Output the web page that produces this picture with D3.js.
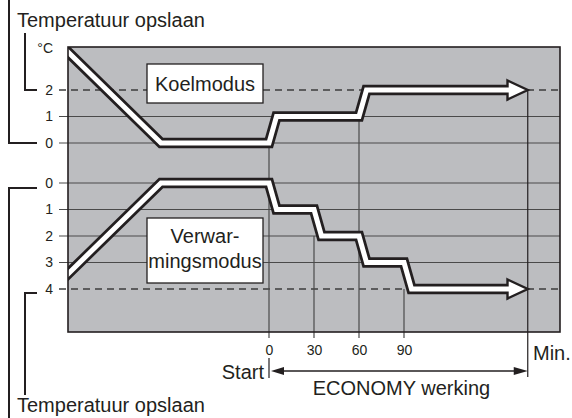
<!DOCTYPE html>
<html>
<head>
<meta charset="utf-8">
<script src="https://cdn.jsdelivr.net/npm/d3@7"></script>
<style>
  body { margin: 0; background: #fff; }
  svg text { font-family: "Liberation Sans", Arial, sans-serif; fill: #231f20; }
</style>
</head>
<body>
<svg id="chart" width="572" height="418"></svg>
<script>
// time in minutes, temperatures as offset in °C
var coolTime = [-134, -72, 0, 5, 60, 65, 159];
var coolTemp = [3.43, 0, 0, 1, 1, 2, 2];
var heatTime = [-134, -72, 0, 5, 30, 35, 60, 65, 90, 95, 159];
var heatTemp = [3.43, 0, 0, 1, 1, 2, 2, 3, 3, 4, 4];
var arrowTip = 172.5;          // end of ECONOMY werking ("Min.")
var coolTicks = [0, 1, 2];
var heatTicks = [0, 1, 2, 3, 4];
var coolSet = 2;               // dashed level, cooling
var heatSet = 4;               // dashed level, heating
var timeTicks = [0, 30, 60, 90];
// where each time line starts: on which curve and at which level
var lineFrom = ["cool", "heat", "cool", "heat"];
var lineLevel = [0, 2, 1, 4];

var ink = "#231f20";
var svg = d3.select("#chart");

var pLeft = 68, pRight = 560, pTop = 47, pBottom = 332;
var x = d3.scaleLinear().domain([-134, 194]).range([pLeft, pRight]);
var yCool = d3.scaleLinear().domain([0, 2]).range([143, 90]);
var yHeat = d3.scaleLinear().domain([0, 4]).range([183, 289]);

svg.append("defs").append("clipPath").attr("id", "plotclip")
  .append("rect").attr("x", pLeft).attr("y", pTop)
  .attr("width", pRight - pLeft).attr("height", pBottom - pTop);

// gray plot area
svg.append("rect")
  .attr("x", pLeft).attr("y", pTop)
  .attr("width", pRight - pLeft).attr("height", pBottom - pTop)
  .attr("fill", "#bcbdc0");

// horizontal grid lines, also serving as left ticks
function gridLines(ticks, y, dashed) {
  svg.append("g").selectAll("line").data(ticks).enter().append("line")
    .attr("x1", 59).attr("x2", pRight)
    .attr("y1", d => y(d)).attr("y2", d => y(d))
    .attr("stroke", d => d === dashed ? "#3c3c3c" : "#4a4a4a")
    .attr("stroke-width", d => d === dashed ? 1.4 : 1.2)
    .attr("stroke-dasharray", d => d === dashed ? "7,5" : null);
}
gridLines(coolTicks, yCool, coolSet);
gridLines(heatTicks, yHeat, heatSet);

// vertical time lines
svg.append("g").selectAll("line").data(timeTicks).enter().append("line")
  .attr("x1", d => x(d)).attr("x2", d => x(d))
  .attr("y1", (d, i) => lineFrom[i] === "cool" ? yCool(lineLevel[i]) : yHeat(lineLevel[i]))
  .attr("y2", pBottom + 6)
  .attr("stroke", "#4a4a4a").attr("stroke-width", 1.2);
svg.append("line")
  .attr("x1", x(arrowTip)).attr("x2", x(arrowTip))
  .attr("y1", yCool(coolSet)).attr("y2", 377)
  .attr("stroke", ink).attr("stroke-width", 1.2);

// left axes (labels only)
var fmt = d3.format("d");
var axCool = svg.append("g").attr("transform", "translate(59,0)")
  .call(d3.axisLeft(yCool).tickValues(coolTicks).tickFormat(fmt).tickSize(0).tickPadding(6));
var axHeat = svg.append("g").attr("transform", "translate(59,0)")
  .call(d3.axisLeft(yHeat).tickValues(heatTicks).tickFormat(fmt).tickSize(0).tickPadding(6));
// bottom axis (labels only)
var axTime = svg.append("g").attr("transform", "translate(0," + (pBottom + 6) + ")")
  .call(d3.axisBottom(x).tickValues(timeTicks).tickFormat(fmt).tickSize(0).tickPadding(7));
[axCool, axHeat, axTime].forEach(function(a) {
  a.select(".domain").remove();
  a.attr("font-size", 14).attr("font-family", '"Liberation Sans", Arial, sans-serif');
  a.selectAll("text").attr("fill", ink);
});

svg.append("text").attr("x", 53).attr("y", 53).attr("text-anchor", "end")
  .style("font-size", "14px").text("°C");

// mode boxes
svg.append("rect").attr("x", 147).attr("y", 64).attr("width", 116).attr("height", 39)
  .attr("fill", "#fff").attr("stroke", ink).attr("stroke-width", 1.3);
svg.append("text").attr("x", 205).attr("y", 91).attr("text-anchor", "middle")
  .style("font-size", "20px").text("Koelmodus");
svg.append("rect").attr("x", 147).attr("y", 218).attr("width", 116).attr("height", 65)
  .attr("fill", "#fff").attr("stroke", ink).attr("stroke-width", 1.3);
svg.append("text").attr("x", 205).attr("y", 243).attr("text-anchor", "middle")
  .style("font-size", "20px").text("Verwar-");
svg.append("text").attr("x", 205).attr("y", 267.5).attr("text-anchor", "middle")
  .style("font-size", "20px").text("mingsmodus");

// the two temperature curves: black band, white core, hollow arrow head
function band(times, temps, y) {
  var pts = times.map((t, i) => [t, temps[i]]);
  var line = d3.line().x(d => x(d[0])).y(d => y(d[1]));
  var g = svg.append("g").attr("clip-path", "url(#plotclip)");
  g.append("path").attr("d", line(pts))
    .attr("fill", "none").attr("stroke", ink).attr("stroke-width", 10.5)
    .attr("stroke-linejoin", "miter").attr("stroke-linecap", "square");
  var last = pts[pts.length - 1];
  var yl = y(last[1]);
  g.append("path")
    .attr("d", "M" + x(last[0]) + "," + (yl - 9.5) + "L" + x(arrowTip) + "," + yl +
      "L" + x(last[0]) + "," + (yl + 9.5) + "Z")
    .attr("fill", "#fff").attr("stroke", ink).attr("stroke-width", 2.4)
    .attr("stroke-linejoin", "miter");
  var inner = pts.slice();
  inner.push([last[0] + 2, last[1]]);
  g.append("path").attr("d", line(inner))
    .attr("fill", "none").attr("stroke", "#fff").attr("stroke-width", 5)
    .attr("stroke-linejoin", "miter").attr("stroke-linecap", "square");
}
band(coolTime, coolTemp, yCool);
band(heatTime, heatTemp, yHeat);

// plot border
svg.append("rect")
  .attr("x", pLeft).attr("y", pTop)
  .attr("width", pRight - pLeft).attr("height", pBottom - pTop)
  .attr("fill", "none").attr("stroke", ink).attr("stroke-width", 1.6);

// left brackets
var br = [
  "M9,0V" + yCool(0) + "H37",
  "M25,33V" + yCool(coolSet) + "H37",
  "M37," + (yHeat(0) + 5) + "H9V418",
  "M37," + (yHeat(heatSet) + 4) + "H25V395"
];
svg.append("g").selectAll("path").data(br).enter().append("path")
  .attr("d", d => d).attr("fill", "none").attr("stroke", ink).attr("stroke-width", 2);

svg.append("text").attr("x", 17).attr("y", 27).style("font-size", "20px").text("Temperatuur opslaan");
svg.append("text").attr("x", 17).attr("y", 412).style("font-size", "20px").text("Temperatuur opslaan");

// ECONOMY span
var yEco = 371;
svg.append("line").attr("x1", x(0)).attr("x2", x(0)).attr("y1", 358).attr("y2", 378)
  .attr("stroke", ink).attr("stroke-width", 1.2);
svg.append("line").attr("x1", x(0) + 8).attr("x2", x(arrowTip) - 8)
  .attr("y1", yEco).attr("y2", yEco).attr("stroke", ink).attr("stroke-width", 1.3);
svg.append("path")
  .attr("d", "M" + (x(0) + 2) + "," + yEco + "L" + (x(0) + 15) + "," + (yEco - 4) +
    "L" + (x(0) + 15) + "," + (yEco + 4) + "Z").attr("fill", ink);
svg.append("path")
  .attr("d", "M" + x(arrowTip) + "," + yEco + "L" + (x(arrowTip) - 14) + "," + (yEco - 4) +
    "L" + (x(arrowTip) - 14) + "," + (yEco + 4) + "Z").attr("fill", ink);

svg.append("text").attr("x", 264).attr("y", 379).attr("text-anchor", "end")
  .style("font-size", "20px").text("Start");
svg.append("text").attr("x", 401.5).attr("y", 395).attr("text-anchor", "middle")
  .style("font-size", "20px").text("ECONOMY werking");
svg.append("text").attr("x", 533).attr("y", 360)
  .style("font-size", "20px").text("Min.");
</script>
</body>
</html>
